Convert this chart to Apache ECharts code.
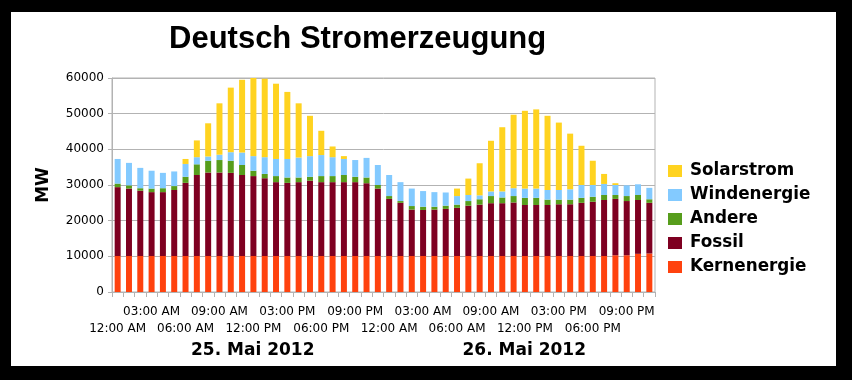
<!DOCTYPE html>
<html>
<head>
<meta charset="utf-8">
<script src="https://cdn.jsdelivr.net/npm/echarts@6/dist/echarts.min.js"></script>
<style>
html,body{margin:0;padding:0;background:#000;width:852px;height:380px;overflow:hidden}
#frame{position:absolute;left:11px;top:12px;width:825px;height:354px;background:#fff}
#c{width:825px;height:354px}
</style>
</head>
<body>
<div id="frame"><div id="c"></div></div>
<script>
// ---- data ----
const hourLabels = ['12:00 AM','01:00 AM','02:00 AM','03:00 AM','04:00 AM','05:00 AM','06:00 AM','07:00 AM','08:00 AM','09:00 AM','10:00 AM','11:00 AM',
                    '12:00 PM','01:00 PM','02:00 PM','03:00 PM','04:00 PM','05:00 PM','06:00 PM','07:00 PM','08:00 PM','09:00 PM','10:00 PM','11:00 PM'];
const categories = hourLabels.concat(hourLabels);
const dayLabels = ['25. Mai 2012', '26. Mai 2012'];
const yTicks = [0, 10000, 20000, 30000, 40000, 50000, 60000];

const kernenergie = [10100,10100,10100,10100,10100,10100,10100,10100,10100,10100,10100,10100,
                     10100,10100,10100,10100,10100,10100,10100,10100,10100,10100,10100,10100,
                     10100,10100,10100,10100,10100,10100,10100,10100,10100,10100,10100,10100,
                     10100,10100,10100,10100,10100,10100,10100,10100,10300,10300,10700,10800];
const fossil = [19300,18900,18300,17900,17900,18500,20500,22700,23400,23400,23300,22700,
                22400,21800,20700,20500,20700,21100,20700,20700,20700,20700,20400,18900,
                16000,14900,13000,12900,13000,13200,13500,14100,14400,14800,14800,15000,
                14300,14300,14300,14500,14500,14900,15200,15700,15800,15200,15100,14200];
const andere = [1000,900,700,1000,1100,1100,1700,3000,3300,3500,3400,2800,
                1500,1200,1700,1500,1300,1100,1700,1700,2000,1500,1600,1000,
                800,500,1000,900,800,900,900,1300,1500,2000,1600,1800,
                2000,2000,1500,1300,1300,1400,1400,1400,1100,1400,1400,1000];
const windenergie = [6900,6300,5700,5000,4300,4100,3600,2000,1200,1500,2400,3500,
                     4100,4700,4800,5200,5600,5800,5900,5300,4500,4700,5500,5600,
                     5900,5300,4900,4400,4100,3700,2400,1700,1100,1300,1700,2200,
                     2600,2600,2700,2700,2900,3600,3300,3100,2800,3000,3000,3200];
const solarstrom = [0,0,0,0,0,0,1400,4700,9300,14400,18100,20400,
                    22100,22000,21100,18800,15200,11300,6800,3000,800,0,0,0,
                    0,0,0,0,0,0,2100,4600,9000,14200,18000,20600,
                    21800,22200,20800,18900,15600,11000,6800,2800,500,0,0,0];

const seriesNames = ['Kernenergie','Fossil','Andere','Windenergie','Solarstrom'];
const seriesData = [kernenergie, fossil, andere, windenergie, solarstrom];
const seriesColors = ['#ff420e','#7e0021','#579d1c','#83caff','#ffd320'];

const chart = echarts.init(document.getElementById('c'), null, {renderer:'canvas'});
const grey = '#b3b3b3';
const font = 'DejaVu Sans';

const hourLabelStyle = {fontFamily: font, fontSize: 12, lineHeight: 17, color: '#000', hideOverlap: false};

chart.setOption({
  animation: false,
  backgroundColor: '#fff',
  title: {
    text: 'Deutsch Stromerzeugung',
    left: 158, top: 12, padding: 0,
    textStyle: {fontFamily: 'Liberation Sans', fontWeight: 'bold', fontSize: 31, lineHeight: 31, color: '#000'}
  },
  legend: {
    orient: 'vertical',
    left: 657, top: 150, padding: 0,
    itemWidth: 14, itemHeight: 12, itemGap: 6,
    icon: 'rect',
    data: ['Solarstrom','Windenergie','Andere','Fossil','Kernenergie'],
    textStyle: {fontFamily: font, fontWeight: 'bold', fontSize: 16.8, lineHeight: 18, color: '#000', padding: [0,0,0,3]}
  },
  grid: {left: 101, top: 66, right: 181, bottom: 74, show: true, borderColor: grey, borderWidth: 1},
  xAxis: [{
    // main axis: lower row of hour labels (every 6 h)
    type: 'category',
    data: categories,
    axisLine: {lineStyle: {color: grey}},
    axisTick: {show: true, length: 5, interval: 0, lineStyle: {color: grey}},
    axisLabel: Object.assign({}, hourLabelStyle, {
      interval: function (i) { return i % 6 === 0; },
      margin: 28
    })
  }, {
    // upper row of hour labels (every 6 h, offset by 3 h)
    type: 'category',
    data: categories,
    position: 'bottom',
    gridIndex: 0,
    axisLine: {show: false},
    axisTick: {show: false},
    axisLabel: Object.assign({}, hourLabelStyle, {
      interval: function (i) { return i % 6 === 3; },
      margin: 11
    })
  }, {
    type: 'category',
    data: dayLabels,
    position: 'bottom',
    gridIndex: 0,
    axisLine: {show: false},
    axisTick: {show: false},
    axisLabel: {fontFamily: font, fontWeight: 'bold', fontSize: 17, lineHeight: 20, color: '#000', margin: 49, padding: [0,0,0,10]}
  }],
  yAxis: {
    type: 'value',
    min: yTicks[0], max: yTicks[yTicks.length - 1], interval: yTicks[1] - yTicks[0],
    name: 'MW', nameLocation: 'middle', nameGap: 60, nameRotate: 90,
    nameTextStyle: {fontFamily: font, fontWeight: 'bold', fontSize: 17, color: '#000'},
    axisLine: {show: true, lineStyle: {color: grey}},
    axisTick: {show: true, length: 4, lineStyle: {color: grey}},
    splitLine: {lineStyle: {color: grey}},
    axisLabel: {fontFamily: font, fontSize: 12, color: '#000', margin: 8,
      formatter: function (v) { return String(v); }}
  },
  series: seriesNames.map((n, k) => ({
    name: n,
    type: 'bar',
    stack: 'total',
    xAxisIndex: 0,
    barWidth: 6,
    itemStyle: {color: seriesColors[k]},
    data: seriesData[k]
  }))
});
</script>
</body>
</html>
